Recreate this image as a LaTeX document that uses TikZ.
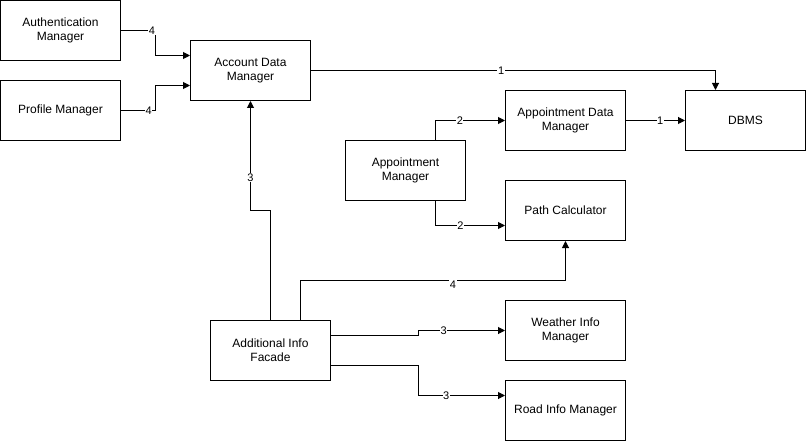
\documentclass[tikz,border=0pt]{standalone}
\usepackage{fontspec}
\setmainfont{Liberation Sans}
\usetikzlibrary{arrows.meta}
\begin{document}
\begin{tikzpicture}[x=1pt,y=-1pt,
  box/.style={draw,line width=1pt,minimum width=120pt,minimum height=60pt,align=center,
    font=\fontsize{12}{14}\selectfont,inner sep=0pt},
  conn/.style={line width=1pt,-{Triangle[length=7pt,width=7pt]}},
  lbl/.style={fill=white,inner sep=0.6pt,font=\fontsize{11}{13}\selectfont}]
\fill[white] (0,0) rectangle (806,441);
\useasboundingbox (0,0) rectangle (806,441);

\node[box] (auth) at (60.5,30.5) {Authentication\\Manager};
\node[box] (prof) at (60.5,110.5) {Profile Manager};
\node[box] (acct) at (250.5,70.5) {Account Data\\Manager};
\node[box] (dbms) at (745.5,120.5) {DBMS};
\node[box] (adm) at (565.5,120.5) {Appointment Data\\Manager};
\node[box] (am) at (405.5,170.5) {Appointment\\Manager};
\node[box] (pc) at (565.5,210.5) {Path Calculator};
\node[box] (aif) at (270.5,350.5) {Additional Info\\Facade};
\node[box] (wim) at (565.5,330.5) {Weather Info\\Manager};
\node[box] (rim) at (565.5,410.5) {Road Info Manager};

\draw[conn] (auth.east) -- node[lbl,pos=0.9]{4} (155.5,30.5) |- ([yshift=15pt]acct.west);
\draw[conn] (prof.east) -- node[lbl,pos=0.8]{4} (155.5,110.5) |- ([yshift=-15pt]acct.west);
\draw[conn] (acct.east) -- node[lbl,pos=0.47]{1} (715.5,70.5) -- ([xshift=-30pt]dbms.north);
\draw[conn] (adm.east) -- node[lbl,pos=0.58]{1} (dbms.west);
\draw[conn] ([xshift=30pt]am.north) |- node[lbl,pos=0.675]{2} (adm.west);
\draw[conn] ([xshift=30pt]am.south) |- node[lbl,pos=0.68]{2} ([yshift=-15pt]pc.west);
\draw[conn] (aif.north) -- (270.5,210.5) -- (250.5,210.5) -- node[lbl,pos=0.3]{3} (acct.south);
\draw[conn] ([xshift=30pt]aif.north) -- (300.5,280.5) -- node[lbl,pos=0.575,yshift=-4pt]{4} (565.5,280.5) -- (pc.south);
\draw[conn] ([yshift=15pt]aif.east) -- (418.5,335.5) -- (418.5,330.5) -- node[lbl,pos=0.29]{3} (wim.west);
\draw[conn] ([yshift=-15pt]aif.east) -- (418.5,365.5) -- (418.5,395.5) -- node[lbl,pos=0.32]{3} ([yshift=15pt]rim.west);
\end{tikzpicture}
\end{document}
